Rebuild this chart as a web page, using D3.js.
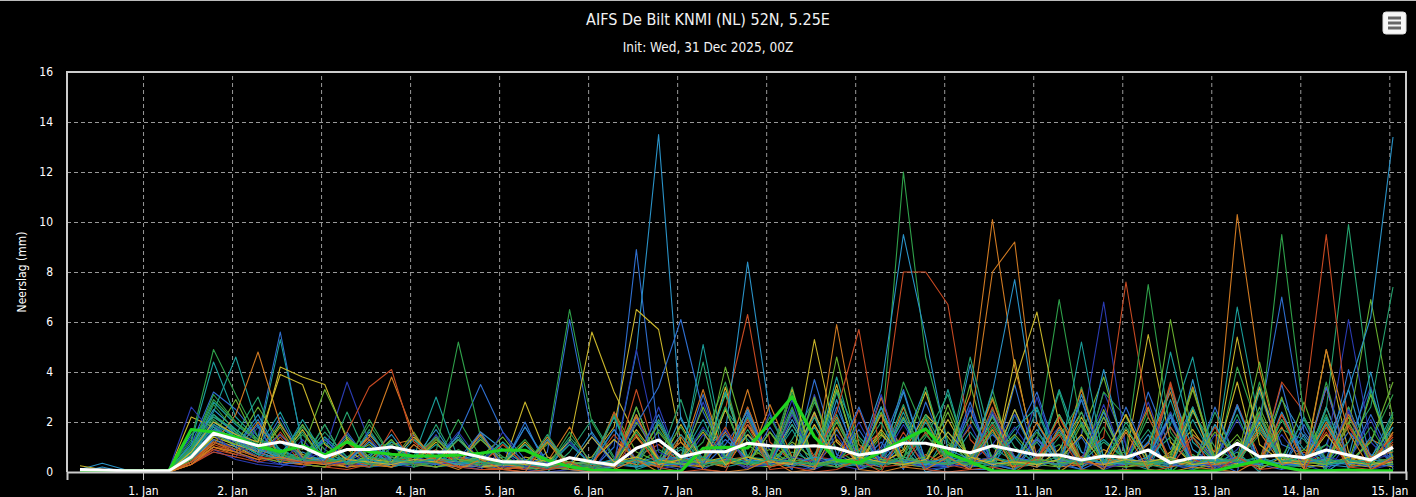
<!DOCTYPE html>
<html>
<head>
<meta charset="utf-8">
<script src="https://cdn.jsdelivr.net/npm/d3@7"></script>
<style>
  html, body { margin: 0; padding: 0; background: #000; overflow: hidden; }
  svg { display: block; }
</style>
</head>
<body>
<div id="chart"></div>
<script>
// Defines dimensions of SVG and of the plot area inside it
var width = 1416;
var height = 497;
var plot = {left: 67, top: 72, right: 1406, bottom: 472};
var font = "'DejaVu Sans Condensed', 'DejaVu Sans', sans-serif";

var chartTitle = "AIFS De Bilt KNMI (NL) 52N, 5.25E";
var chartSubtitle = "Init: Wed, 31 Dec 2025, 00Z";
var yTitle = "Neerslag (mm)";

// Forecast steps: every 6 hours from 31 Dec 06Z to 15 Jan 00Z (60 steps)
var firstStep = Date.UTC(2025, 11, 31, 6);
var stepMs = 6 * 3600 * 1000;

// Day ticks are at local midnight (23Z)
var tickLabels = ["1. Jan", "2. Jan", "3. Jan", "4. Jan", "5. Jan", "6. Jan", "7. Jan", "8. Jan",
  "9. Jan", "10. Jan", "11. Jan", "12. Jan", "13. Jan", "14. Jan", "15. Jan"];
var yTicks = [0, 2, 4, 6, 8, 10, 12, 14, 16];

// Colours the ensemble members cycle through
var memberColors = ["#2b3cb4", "#2f6fd0", "#2a93c8", "#1a9e9a", "#2fa14a",
  "#69b130", "#c9b52a", "#d07a22", "#c84a22", "#25a36f"];

// Ensemble mean (white) and control run (green), mm per 6 h
var meanValues = [0.1,0.08,0.05, 0.05,0.05,0.6,1.55, 1.3,1.05,1.2,1.0, 0.6,0.9,0.9,1.0, 0.82,0.8,0.8,0.6,
  0.41,0.4,0.28,0.57, 0.41,0.28,0.95,1.28, 0.61,0.81,0.81,1.15, 1.05,1.0,1.05,0.95, 0.68,0.81,1.15,1.15,
  0.95,0.77,1.05,0.87, 0.68,0.68,0.48,0.64, 0.59,0.88,0.37,0.57, 0.57,1.15,0.61,0.68, 0.57,0.88,0.68,0.48, 0.99];
var controlValues = [0.05,0.05,0.05, 0.05,0.05,1.7,1.6, 1.4,1.04,0.81,1.05, 0.68,1.21,0.81,0.71, 0.64,0.64,0.68,0.75,
  0.88,0.87,0.48,0.21, 0.08,0.07,0.03,0.03, 0.03,0.95,0.99,0.96, 1.96,3.01,1.41,0.48, 0.37,0.81,1.28,1.72,
  0.75,0.41,0.05,0.03, 0.03,0.03,0.03,0.03, 0.03,0.03,0.03,0.03, 0.05,0.25,0.45,0.2, 0.05,0.05,0.08,0.05, 0.05];

// Ensemble members, one row each: 31 Dec (3 steps), 1..14 Jan (4 steps), 15 Jan 00Z
var members = [
  [0,0,0.05, 0,0.1,0.8,1.2, 0.9,0.6,0.3,0.2, 0.5,0.3,0.2,0.4, 0.3,0.2,0.6,0.4, 0.2,1.8,0.3,0.1, 0,0.4,2.2,0.3, 0.1,2.8,0.4,1.5, 0.6,0.2,3.1,0.3, 0.1,0.6,2.1,0.5, 0.2,2.6,0.4,0.1, 0.8,1.8,0.1,3.2, 1.1,0.1,0,2.6, 0.2,0.9,2.4,0.1, 0.3,0,1.2,3.4, 0.2],
  [0,0,0, 0,0.05,1.1,3.2, 2.5,1.4,5.6,1.0, 0.6,0.4,0.9,0.3, 0.5,0.8,0.2,0.3, 0.1,0.3,0.6,0.2, 0.1,1.0,8.9,1.4, 0.3,3.1,0.2,1.9, 0.9,0.1,3.7,0.7, 0.3,1.2,0.1,2.8, 0.6,0.1,0.1,3.5, 0.2,0.5,1.4,0, 0.1,3.2,0.9,2.6, 0.4,0,3.3,1.1, 0.7,0.2,4.1,0.5, 0.4],
  [0.1,0.35,0.1, 0.05,0.1,1.5,2.2, 1.6,0.8,1.2,0.6, 0.4,0.2,0.7,1.2, 0.8,0.4,0.3,1.6, 0.9,0.3,0.2,0.1, 0,0.3,4.8,13.5, 2.1,0.5,3.2,0.4, 0.3,1.1,0.1,2.9, 0.1,0.4,1.3,0, 0.2,4.3,0.3,0.1, 1.2,0.1,3.1,0.6, 0.3,1.5,0,3.7, 0.1,0.6,0.3,2.9, 1.4,0,0.6,4.0, 0.1],
  [0,0.05,0, 0,0.1,0.9,2.8, 1.9,1.2,5.3,1.1, 0.7,0.5,0.3,0.6, 0.4,1.1,0.5,0.3, 0.6,0.2,0.1,1.3, 0.2,0.1,2.6,0.3, 0.9,0.2,2.5,1.3, 0.4,1.7,0.1,3.2, 0.6,2.3,0.9,0.1, 1.6,0.4,0,2.3, 0.5,3.3,0.8,0.2, 0.4,0.1,1.9,4.6, 0.3,0.8,0,2.1, 0.9,2.1,0.1,3.3, 0.6],
  [0,0,0, 0,0.05,0.6,2.1, 1.4,0.9,0.6,1.8, 0.9,0.3,0.2,0.5, 0.6,0.3,0.9,0.4, 0.2,0.4,1.1,6.5, 2.0,0.5,0.3,0.9, 0.4,1.2,3.6,0.3, 0.2,0.5,2.8,0.9, 0.3,0.1,3.6,1.5, 0.4,0.2,3.3,0.1, 0.6,1.1,0.1,3.2, 2.2,0.5,0,0.7, 0.1,4.2,1.6,0.3, 0.2,3.6,0.3,1.2, 3.1],
  [0,0,0.05, 0,0,0.5,1.4, 2.9,1.1,0.7,0.4, 0.3,0.6,1.1,0.4, 0.2,0.5,0.3,0.2, 0.4,0.1,0.2,0.6, 0.3,2.4,0.8,0.4, 0.2,0.5,3.1,0.6, 0.9,0.3,0.2,4.6, 0.8,2.6,0.4,0.3, 1.1,0.6,3.0,0.4, 0.3,0.2,1.5,3.8, 0.6,0.2,2.4,0.1, 0.3,1.3,0.5,3.0, 0.1,0.4,2.2,0.6, 1.1],
  [0.25,0.1,0, 0,0.05,2.2,1.8, 1.3,0.8,1.5,0.6, 0.4,0.9,0.3,0.2, 0.5,0.3,0.6,0.4, 0.3,0.2,0.5,0.4, 0.6,1.8,6.5,5.7, 1.2,0.3,3.4,0.2, 0.6,1.9,0.5,3.5, 0.2,0.4,0.8,2.3, 1.4,0.3,0.1,4.5, 0.2,0.9,2.4,0.3, 0.5,0.2,0.8,1.7, 0.4,3.6,0.1,0.6, 0.3,4.9,0.8,0.2, 0.4],
  [0,0,0, 0,0.1,0.4,1.2, 0.8,1.3,0.6,0.5, 0.3,0.2,0.4,1.1, 1.3,0.5,0.3,0.2, 0.1,0.3,0.2,0.1, 0.1,0.4,1.4,0.3, 0.6,3.3,0.4,0.2, 0.3,2.5,0.2,1.3, 0.4,0.2,2.6,0.3, 0.8,3.1,10.1,4.2, 0.6,0.2,0.3,0.9, 0.4,1.1,3.2,0.2, 0.6,0.3,1.8,0.4, 0.2,2.6,0.3,1.3, 0.9],
  [0,0,0, 0,0,0.3,0.9, 1.1,0.6,0.4,0.3, 0.2,0.1,0.3,0.6, 0.4,0.9,0.3,0.2, 0.3,0.1,0.4,0.2, 0.1,0.2,0.6,1.1, 0.4,0.8,2.5,6.3, 1.2,0.4,2.3,0.2, 0.5,3.0,0.2,0.7, 0.3,0.1,2.4,0.2, 1.3,0.5,0.2,0.6, 0.2,0.4,3.6,0.5, 0.3,2.7,0.6,0.3, 0.8,0.3,1.9,0.4, 1.5],
  [0,0,0, 0,0.05,0.7,1.9, 1.2,0.7,0.9,0.5, 0.6,0.3,0.2,0.3, 0.3,0.6,0.4,0.5, 0.4,0.2,0.3,0.2, 0.1,2.3,0.2,0.5, 1.0,0.3,2.6,0.4, 0.2,0.8,0.4,3.3, 1.4,0.5,0.2,2.3, 0.6,0.2,2.5,1.0, 0.3,3.2,0.4,1.2, 0.5,0.3,0.1,2.4, 1.0,0.4,3.2,0.6, 0.3,2.5,9.9,3.1, 0.8],
  [0,0,0, 0,0.1,1.4,0.9, 0.5,0.3,0.2,0.6, 0.3,0.4,0.2,0.3, 0.2,0.6,0.3,0.1, 0.1,0.2,0.1,0.4, 0.2,0.5,2.3,0.1, 0.3,0.1,0.6,2.2, 0.4,2.9,0.1,0.5, 0.3,0.9,2.2,0.1, 0.2,0.4,1.1,2.3, 0.6,0.2,1.5,6.8, 1.0,0.3,2.2,0.4, 0.1,0.5,0.2,2.3, 0.6,0.2,2.4,0.1, 0.3],
  [0,0,0, 0,0,0.5,1.6, 1.0,2.1,0.6,0.4, 0.5,0.3,0.6,0.2, 0.4,0.2,0.5,0.7, 0.3,0.1,0.8,6.1, 1.5,0.4,0.2,0.3, 0.6,0.2,1.1,2.4, 0.3,2.5,0.2,0.6, 0.2,1.0,3.3,0.4, 0.5,0.2,0.3,1.4, 3.2,0.4,0.1,0.5, 0.3,0.6,2.2,0.1, 2.6,0.4,0.3,3.5, 0.2,0.3,1.6,0.7, 0.2],
  [0,0.2,0, 0,0.1,1.0,2.5, 1.7,1.0,0.5,0.8, 0.4,0.6,1.0,0.3, 0.9,0.4,0.6,0.5, 0.3,0.4,0.2,0.1, 0.1,0.2,0.4,0.6, 0.3,0.9,1.6,8.4, 2.3,0.5,2.4,0.2, 0.6,0.3,1.1,3.4, 0.2,0.7,0.3,2.5, 0.4,2.3,0.8,0.3, 0.6,0.2,3.4,0.9, 0.3,0.5,0.2,2.4, 0.6,1.1,3.3,0.2, 0.5],
  [0,0,0, 0,0.05,1.2,4.4, 2.2,1.3,0.9,0.4, 0.6,0.3,0.5,0.2, 0.4,0.2,0.3,0.6, 0.2,0.5,0.3,0.2, 0.3,2.2,0.1,0.4, 0.5,0.3,3.2,0.6, 0.4,0.2,0.7,2.3, 0.2,2.6,0.4,0.3, 3.3,0.2,0.6,0.4, 0.5,2.3,0.2,0.7, 0.3,1.2,3.4,0.2, 0.5,6.6,1.9,0.4, 0.2,2.6,0.3,0.5, 2.4],
  [0,0,0, 0,0.1,0.9,3.1, 2.0,1.2,0.4,0.6, 0.3,0.5,0.2,0.4, 0.5,0.3,0.4,0.2, 0.1,0.3,0.2,0.4, 0.2,0.1,2.3,0.2, 0.4,0.6,0.2,2.3, 0.6,3.4,0.2,0.5, 0.3,1.4,12.0,4.6, 1.2,0.4,2.2,0.3, 0.6,0.2,3.4,0.3, 0.2,2.5,0.3,0.1, 0.4,0.2,3.6,0.3, 0.5,2.3,0.2,0.6, 0.4],
  [0,0,0, 0,0,0.6,1.7, 1.4,0.8,0.5,0.3, 0.2,0.4,0.6,0.3, 0.5,1.4,0.6,0.3, 0.4,0.2,0.1,0.3, 0.2,0.4,2.6,0.3, 0.2,0.4,0.3,2.6, 0.4,1.2,0.5,3.3, 0.6,0.3,2.2,0.4, 0.3,3.5,0.4,0.2, 0.4,1.6,0.3,2.5, 0.2,0.3,0.7,3.4, 0.6,0.2,2.4,0.3, 0.9,0.4,1.8,6.9, 2.1],
  [0,0.1,0, 0,0.05,0.4,1.3, 1.0,0.6,1.9,0.7, 0.4,0.2,0.3,0.5, 0.3,0.4,0.2,0.3, 0.2,0.6,0.4,1.2, 5.6,3.2,1.4,0.5, 0.3,0.2,2.5,0.4, 0.2,3.3,0.3,0.4, 0.5,0.3,0.9,3.2, 0.4,0.2,2.3,0.6, 0.3,0.5,2.2,0.4, 0.6,5.5,1.2,0.3, 0.2,0.4,2.3,0.5, 0.3,0.2,2.6,0.4, 0.2],
  [0,0,0, 0,0,0.3,1.0, 0.7,1.1,0.4,0.3, 0.5,0.2,0.3,0.2, 0.6,0.3,0.4,0.2, 0.3,0.1,0.2,0.1, 0.2,0.5,2.3,0.4, 0.6,0.2,0.4,3.3, 0.2,0.4,0.6,2.2, 0.3,3.0,0.5,0.4, 0.6,1.8,8.0,9.2, 2.0,0.4,3.3,0.2, 0.5,0.3,0.2,3.4, 0.3,0.6,0.2,2.3, 0.4,3.4,0.5,0.3, 0.6],
  [0,0,0, 0,0.05,0.5,1.1, 0.8,0.4,0.6,0.3, 0.2,0.4,0.3,0.5, 0.3,0.2,0.4,0.2, 0.1,0.2,0.3,0.2, 0.3,0.2,3.3,0.4, 0.2,0.5,0.3,2.6, 0.4,2.3,0.6,0.5, 0.9,1.6,8.0,8.0, 6.7,1.3,0.4,0.3, 0.5,2.2,0.4,0.6, 0.3,0.2,3.5,0.3, 0.4,0.2,2.3,0.6, 0.2,3.4,0.3,0.5, 1.2],
  [0,0,0, 0,0.1,0.8,2.0, 1.5,3.0,0.7,1.6, 0.3,2.4,0.4,1.1, 0.2,1.9,0.3,0.5, 1.2,0.2,0,0.8, 2.1,0.6,0.2,1.7, 0.5,4.4,0.3,2.2, 0.2,1.3,2.9,0.4, 0.6,2.0,0.2,1.4, 3.1,0.3,1.6,0.2, 0.3,1.4,2.9,0.3, 2.0,0.6,1.4,0.3, 0.5,2.3,0.2,1.7, 1.3,0.1,2.6,0.2, 1.8],
  [0,0,0, 0,0.05,0.4,0.8, 0.6,1.8,0.3,0.2, 1.4,0.2,0.9,0.6, 0.3,1.5,0.2,0.1, 0.9,0.1,0,0.1, 0,1.3,0.2,2.6, 0.2,1.5,0.6,0.1, 2.4,0.2,0.1,1.5, 0.2,3.1,0.3,0.2, 0.5,1.9,0.2,0, 3.0,0.3,0.6,0.1, 0.4,2.8,0.3,0.1, 1.5,0.2,3.4,0.3, 0.4,0.8,6.1,1.2, 0.3],
  [0,0,0, 0,0,0.6,1.5, 1.2,0.7,2.2,0.5, 0.3,1.6,0.4,0.3, 1.5,0.3,0.2,1.4, 0.2,2.0,0.1,0.2, 0.3,0.5,1.9,3.4, 6.1,2.4,0.6,0.3, 1.8,0.4,0.1,2.6, 0.5,0.2,1.4,0.3, 0.2,2.5,0.3,0.1, 1.4,0.3,0.1,2.2, 0.3,1.2,0.2,0.6, 0.2,2.7,0.3,0.1, 1.9,0.2,0.4,2.3, 0.5],
  [0,0.1,0, 0,0.1,0.7,1.8, 1.0,2.3,0.6,0.4, 1.9,0.3,0.6,1.5, 0.3,0.6,1.4,0.2, 0.4,1.1,0.2,0.3, 1.6,0.3,0.5,0.2, 2.2,0.3,0.6,1.5, 0.3,2.1,0.4,0.2, 0.6,3.3,9.5,5.4, 0.9,0.5,2.3,0.4, 0.2,1.7,0.3,4.1, 0.6,0.3,1.8,0.4, 0.3,2.6,0.4,0.2, 1.5,0.3,0.2,1.4, 0.3],
  [0,0,0, 0,0.05,0.9,2.4, 4.6,1.8,0.9,0.5, 1.4,0.6,0.3,1.2, 0.6,3.0,0.5,0.3, 1.2,0.4,0.1,0.2, 0.3,1.7,0.4,0.3, 0.5,2.1,0.2,0.4, 1.6,0.6,0.4,3.8, 0.7,0.3,2.4,0.2, 0.3,1.6,0.4,0.3, 2.5,0.2,0.6,1.3, 0.5,0.3,2.9,0.2, 0.6,0.3,1.7,0.5, 0.3,2.2,0.2,0.3, 1.3],
  [0,0,0, 0,0.1,1.3,4.9, 3.1,1.4,0.8,0.5, 1.9,0.3,0.5,1.3, 0.2,0.4,2.1,0.6, 0.3,0.2,1.4,0.2, 0.1,2.3,0.2,0.4, 0.3,0.5,2.6,0.2, 0.5,3.2,0.2,0.4, 1.3,0.2,0.5,3.4, 0.4,0.3,1.8,0.5, 1.2,6.9,1.8,0.4, 0.3,2.2,0.4,0.3, 1.9,0.5,0.3,2.1, 0.4,1.1,0.5,0.2, 2.3],
  [0,0,0, 0,0,0.5,1.4, 1.1,0.6,1.8,0.3, 0.2,1.2,0.3,0.4, 1.6,0.2,0.4,1.3, 0.5,0.3,0.2,0.1, 0.2,0.4,2.0,0.6, 0.4,2.6,0.5,0.3, 1.6,0.3,3.0,0.2, 0.4,1.6,0.3,0.2, 2.7,0.4,0.6,1.5, 0.5,0.2,1.9,0.3, 0.2,0.4,0.6,3.3, 0.5,1.5,0.2,0.4, 2.8,0.3,0.4,1.2, 3.6],
  [0,0,0, 0,0.05,0.7,1.6, 1.2,0.8,0.5,1.7, 0.3,0.4,1.5,0.5, 0.4,1.2,0.2,0.3, 0.2,2.8,0.6,0.3, 0.4,1.3,0.5,0.2, 1.9,0.4,0.2,1.5, 0.6,0.4,2.4,0.2, 0.4,1.5,0.6,0.4, 2.1,0.5,0.4,3.6, 6.4,1.9,0.4,0.3, 1.7,0.4,0.3,2.5, 0.3,0.2,2.0,0.3, 0.5,1.9,0.3,0.2, 1.6],
  [0,0,0, 0,0,0.4,1.0, 0.8,2.0,0.6,0.3, 0.5,1.3,0.4,0.2, 1.1,0.4,0.2,1.6, 0.1,0.2,1.4,0.3, 0.2,0.4,2.2,0.5, 0.4,0.2,1.6,0.3, 2.7,0.6,0.4,0.2, 0.5,2.3,0.2,0.4, 0.3,0.6,2.9,0.4, 0.2,1.8,0.3,0.6, 2.3,0.2,0.5,1.5, 0.8,10.3,4.1,0.6, 0.4,2.0,0.6,0.2, 1.6],
  [0,0,0, 0,0.05,0.3,0.8, 0.6,0.4,1.6,0.5, 0.3,1.2,0.4,0.3, 0.5,1.4,0.2,0.4, 0.2,0.1,1.3,0.2, 0.1,2.4,0.4,0.2, 1.5,0.5,0.2,2.1, 0.2,0.4,1.9,0.3, 2.5,0.2,0.3,1.6, 0.2,0.4,2.6,0.2, 0.5,0.3,0.6,1.4, 7.6,2.2,0.5,0.3, 1.8,0.2,0.3,2.3, 0.3,1.6,0.2,0.4, 1.1],
  [0,0,0, 0,0.1,0.6,1.7, 1.3,0.7,2.0,0.4, 0.6,0.3,1.7,0.4, 0.4,0.3,1.5,0.2, 0.3,1.1,0.1,0.3, 0.2,0.3,1.6,0.4, 2.9,0.2,0.4,0.6, 0.5,2.4,0.2,0.4, 0.3,0.5,2.7,0.2, 0.4,2.2,0.6,0.3, 0.3,0.5,2.4,0.4, 0.5,1.7,0.4,0.2, 2.4,0.4,0.6,0.3, 0.5,0.3,1.2,2.6, 7.4],
  [0,0,0, 0,0.1,0.9,1.9, 1.1,0.6,1.5,0.5, 0.8,3.6,1.2,0.4, 0.3,0.5,1.6,0.4, 0.2,0.3,0.1,1.2, 0.3,0.2,2.1,0.6, 0.4,1.8,0.5,0.2, 0.3,2.3,0.4,0.6, 0.2,0.4,1.9,0.5, 0.3,0.2,2.4,0.6, 0.4,0.3,0.5,2.7, 0.3,0.6,0.2,1.4, 0.5,2.1,0.4,0.2, 0.6,0.4,2.5,0.5, 0.7],
  [0,0,0, 0,0.05,0.5,1.3, 0.9,1.9,0.3,0.4, 1.3,0.5,0.2,1.0, 0.6,0.4,1.5,3.5, 1.6,0.5,0.3,0.2, 1.4,0.3,0.5,2.3, 0.2,0.4,1.3,0.5, 0.4,0.3,2.2,0.4, 1.7,0.3,0.4,0.2, 0.3,2.8,0.2,0.4, 1.3,0.4,0.6,0.3, 2.6,0.5,0.3,0.4, 0.4,0.2,2.2,0.3, 0.3,3.4,0.4,0.2, 0.3],
  [0,0,0, 0,0.1,1.1,2.3, 1.5,0.9,0.7,1.9, 0.4,0.3,1.6,0.4, 0.5,1.7,0.3,0.2, 0.3,0.2,1.3,0.3, 0.2,0.5,0.4,2.0, 0.4,0.3,0.6,2.5, 0.3,0.4,0.2,1.7, 0.4,0.6,3.2,0.4, 0.5,0.4,3.2,7.7, 1.9,0.5,0.3,2.4, 0.3,0.4,0.6,0.2, 1.9,0.3,0.5,0.3, 2.2,0.4,0.3,0.6, 1.8],
  [0,0,0, 0,0.05,0.8,1.9, 1.4,1.0,2.4,0.6, 0.5,1.4,0.4,0.3, 0.4,0.6,0.3,1.5, 0.3,0.4,0.2,0.3, 0.5,2.2,0.2,0.4, 0.3,5.1,0.6,0.4, 0.5,0.3,1.8,0.2, 0.3,0.5,2.1,0.3, 0.4,0.3,0.5,1.7, 2.6,0.4,5.2,0.5, 0.3,0.4,0.2,2.1, 0.4,0.3,0.6,0.2, 0.3,1.9,0.4,0.3, 0.4],
  [0,0,0, 0,0.1,0.7,2.7, 1.6,0.9,0.6,1.5, 0.5,0.4,2.1,0.6, 0.5,0.8,5.2,1.4, 0.6,0.3,0.2,1.6, 0.3,0.4,0.2,0.5, 1.8,0.3,0.5,0.3, 0.6,2.6,0.3,0.2, 0.4,0.3,0.6,2.2, 0.3,0.5,0.2,0.4, 1.6,0.3,0.4,0.6, 0.8,7.5,1.6,0.4, 0.3,0.5,2.4,0.4, 0.6,0.3,0.5,1.8, 0.3],
  [0,0,0, 0,0,0.4,1.2, 0.9,0.6,0.4,1.9, 0.6,0.3,0.5,1.3, 0.3,0.2,0.4,0.6, 1.4,0.3,0.2,0.4, 0.3,0.4,0.6,1.6, 0.5,0.3,4.2,1.1, 0.4,0.6,0.3,2.0, 0.3,0.5,0.4,0.6, 2.4,0.3,0.5,0.4, 0.3,2.3,0.4,0.2, 0.5,0.3,6.1,1.4, 0.4,0.3,2.6,0.6, 0.3,0.5,0.4,3.1, 0.5],
  [0,0,0, 0,0.05,0.6,1.4, 1.1,0.8,4.2,3.8, 3.5,1.3,0.5,0.4, 1.4,0.5,0.4,0.2, 0.3,1.2,0.2,0.3, 0.4,0.2,1.7,0.5, 0.3,0.4,0.6,1.9, 0.5,0.3,5.3,1.2, 0.4,1.7,0.5,0.4, 0.3,0.6,0.4,2.5, 0.5,0.3,0.4,0.6, 2.3,0.5,0.4,0.3, 0.6,0.3,3.4,0.5, 0.4,0.3,0.6,0.4, 2.0],
  [0,0,0, 0,0,0.4,1.1, 2.3,4.8,1.9,0.6, 0.4,0.3,1.3,0.3, 0.4,0.6,0.3,1.5, 0.3,0.2,0.4,1.8, 0.2,0.5,0.3,0.4, 1.2,0.3,0.5,0.6, 0.3,0.4,0.2,5.9, 1.1,0.4,0.3,2.1, 0.4,0.3,0.6,0.2, 2.0,0.5,0.4,0.3, 0.6,2.6,0.2,0.4, 0.3,0.5,1.6,0.3, 0.5,0.4,2.3,0.6, 0.8],
  [0,0,0, 0,0.05,0.3,0.9, 0.7,0.5,1.4,0.3, 0.4,0.3,0.2,1.7, 0.3,0.4,0.6,0.3, 1.1,0.3,0.1,0.2, 0.3,1.5,0.4,0.3, 0.5,0.4,1.8,0.2, 0.4,0.3,0.5,2.4, 5.7,0.6,0.3,0.4, 0.3,0.5,1.9,0.4, 0.4,2.2,0.5,0.2, 0.3,0.4,1.8,0.5, 0.2,0.4,0.3,3.6, 2.4,9.5,1.8,0.5, 1.4],
  [0,0,0, 0,0.1,0.8,2.2, 1.7,1.1,0.6,0.5, 1.6,0.6,0.3,0.5, 0.6,1.4,0.3,0.5, 0.4,0.2,1.5,0.2, 0.3,0.4,0.2,2.1, 0.4,0.6,0.3,1.7, 0.3,0.5,2.2,0.3, 0.5,0.3,0.6,0.4, 0.5,4.6,1.0,0.4, 0.3,0.5,2.0,0.3, 0.4,0.2,0.5,2.6, 0.5,0.4,0.3,0.6, 2.1,0.3,0.5,0.3, 0.4],
  [0,0,0, 0,0.1,2.6,1.5, 0.8,0.4,0.3,1.3, 0.3,0.4,1.4,0.3, 0.5,0.3,0.4,0.2, 1.6,0.2,0.4,0.3, 0.2,0.4,4.9,0.8, 0.4,0.3,1.7,0.2, 0.3,0.6,0.4,0.3, 2.0,0.3,0.5,0.2, 0.3,0.4,0.6,1.8, 0.5,0.3,0.4,0.2, 0.3,0.5,2.4,0.4, 0.2,0.4,0.3,1.5, 0.3,0.6,0.4,2.1, 0.2],
  [0,0,0, 0,0.05,0.6,1.7, 1.3,0.8,0.5,0.4, 0.5,1.5,0.4,0.3, 0.4,0.3,0.5,1.6, 0.3,0.4,0.2,0.3, 0.4,1.7,0.5,0.3, 0.3,0.5,0.4,2.3, 0.5,0.4,0.3,0.6, 2.6,0.3,0.5,0.3, 0.3,0.5,1.5,0.6, 0.4,0.3,2.9,0.3, 0.5,0.4,0.3,0.2, 0.4,0.6,2.1,7.0, 1.6,0.5,0.4,0.3, 0.5],
  [0,0,0, 0,0.1,0.9,2.0, 1.4,0.9,0.6,0.4, 0.6,0.4,1.2,0.5, 0.4,0.5,0.3,0.4, 0.3,1.8,0.4,0.3, 0.4,0.3,0.2,0.5, 0.6,0.4,1.5,0.5, 0.4,0.3,0.6,0.4, 0.3,2.6,0.4,0.3, 0.6,0.4,0.3,0.5, 1.7,0.3,0.5,0.4, 0.3,0.6,2.3,0.3, 0.5,0.4,0.3,0.6, 0.4,0.5,3.3,6.2, 13.4],
  [0,0,0, 0,0.05,0.7,1.8, 1.2,0.7,0.5,2.1, 0.6,0.4,0.5,0.3, 1.3,0.6,0.4,0.3, 0.4,0.3,0.2,1.1, 0.3,0.5,0.4,0.3, 1.5,0.3,0.6,0.4, 0.3,1.9,0.4,0.3, 0.5,0.4,0.3,2.0, 0.4,0.3,0.5,1.4, 0.3,0.5,0.4,0.6, 0.4,0.3,4.8,1.2, 0.4,0.5,1.9,0.4, 0.6,0.3,0.4,0.5, 0.3],
  [0,0,0, 0,0.1,1.0,2.9, 2.0,1.3,0.7,0.5, 0.4,0.5,1.9,0.6, 0.3,0.4,0.5,0.3, 0.4,1.3,0.2,0.3, 0.2,0.4,1.6,0.4, 0.5,0.3,0.4,0.6, 2.2,0.5,0.3,0.4, 0.3,0.4,0.6,1.5, 0.5,0.3,0.4,0.3, 0.4,0.6,0.3,1.8, 0.3,0.4,0.5,0.3, 0.6,0.4,1.5,9.5, 2.2,0.5,0.4,0.3, 0.6],
  [0,0,0, 0,0,0.5,1.5, 1.1,2.6,1.2,0.9, 3.3,1.4,0.6,0.4, 0.4,1.3,0.5,0.4, 0.3,0.4,1.2,0.3, 0.4,0.3,0.5,1.9, 0.3,0.5,0.4,0.3, 1.6,0.4,0.3,0.5, 0.4,2.4,0.3,0.4, 0.3,0.5,1.7,0.3, 0.5,0.4,0.3,2.2, 0.4,0.3,0.5,0.4, 1.6,0.5,4.4,0.6, 0.4,0.3,2.0,0.4, 0.3],
  [0,0,0, 0,0.05,0.8,2.0, 1.5,1.2,3.9,3.5, 1.1,0.5,0.4,0.3, 0.5,0.4,1.3,0.5, 0.4,0.3,0.5,0.2, 1.4,0.4,0.6,0.3, 0.5,1.6,0.3,0.6, 0.4,0.3,1.9,0.4, 0.6,0.4,0.3,0.5, 1.6,0.6,0.3,0.4, 0.3,0.5,1.5,0.3, 0.5,0.4,0.6,0.3, 0.4,5.4,1.1,0.4, 0.3,1.5,0.4,0.3, 0.4],
  [0,0,0, 0,0,0.3,1.0, 0.8,0.5,0.6,0.4, 0.3,0.5,1.4,3.8, 1.5,0.4,0.1,0.5, 0.1,0,1.2,0.1, 0,0.1,0.5,0, 1.4,0.1,0,0.1, 0.5,0,0.1,1.8, 0.1,0,0.2,0.1, 0.6,0.1,1.7,0, 0.1,0,0.6,0.1, 1.6,0.1,0,0.2, 0.1,0,0.5,1.8, 0.1,4.9,1.6,0.1, 0.6],
  [0,0,0, 0,0.05,0.4,1.2, 0.9,0.6,0.5,0.4, 0.4,1.6,3.4,4.1, 1.2,0.5,0.2,0.1, 0.1,0,0.1,0.4, 0,0.1,1.5,0.2, 0,0.1,0,1.9, 0.1,0.2,0,0.1, 0.5,0,1.6,0.1, 0,0.1,0.2,0, 0.6,1.5,0.1,0, 0.1,0,0.2,1.4, 0,0.6,0.1,0.2, 0,1.8,0.2,0.1, 0.5],
  [0,0,0, 0,0.1,0.9,2.3, 1.6,1.0,0.7,0.5, 1.2,0.3,0.6,0.5, 0.4,0.5,1.3,0.4, 0.3,0.4,0.2,1.4, 0.4,0.3,0.5,0.4, 0.3,1.7,0.6,0.3, 0.5,0.4,0.3,2.1, 0.4,0.3,0.5,0.4, 0.3,0.6,2.0,0.5, 0.4,0.3,0.5,0.4, 1.8,0.4,0.3,0.6, 0.4,0.5,2.2,0.4, 0.6,0.4,0.5,0.3, 2.1]
];

// Appends SVG Canvas to document body
var svg = d3.select("#chart").append("svg")
    .attr("width", width)
    .attr("height", height)
    .style("background", "#000");

// Scales: time axis padded 3.5 h on both ends, as the chart does
var x = d3.scaleUtc()
    .domain([new Date(firstStep - 3.5 * 3600 * 1000), new Date(firstStep + 59 * stepMs + 3.5 * 3600 * 1000)])
    .range([plot.left, plot.right]);
var y = d3.scaleLinear()
    .domain([0, 16])
    .range([plot.bottom, plot.top]);

var tickTimes = tickLabels.map(function(d, i){ return new Date(Date.UTC(2025, 11, 31, 23) + i * 864e5); });

// thin border along the top of the container
svg.append("line")
    .attr("x1", 0).attr("x2", width)
    .attr("y1", 0.5).attr("y2", 0.5)
    .attr("stroke", "#bbb");

// Grid lines (dashed)
svg.append("g")
    .attr("class", "xgrid")
    .attr("transform", "translate(0," + plot.bottom + ")")
    .call(d3.axisBottom(x).tickValues(tickTimes).tickSize(-(plot.bottom - plot.top)).tickFormat(""))
    .call(function(g){
      g.select(".domain").remove();
      g.selectAll("line").attr("stroke", "#999").attr("stroke-dasharray", "4,3");
    });

svg.append("g")
    .attr("class", "ygrid")
    .attr("transform", "translate(" + plot.left + ",0)")
    .call(d3.axisLeft(y).tickValues(yTicks.slice(1, -1)).tickSize(-(plot.right - plot.left)).tickFormat(""))
    .call(function(g){
      g.select(".domain").remove();
      g.selectAll("line").attr("stroke", "#999").attr("stroke-dasharray", "4,3");
    });

// Line generator shared by all series
var line = d3.line()
    .x(function(d, i){ return x(new Date(firstStep + i * stepMs)); })
    .y(function(d){ return y(d); });

svg.append("g")
    .attr("class", "members")
    .selectAll("path")
    .data(members)
    .enter().append("path")
      .attr("d", line)
      .attr("fill", "none")
      .attr("stroke", function(d, i){ return memberColors[i % memberColors.length]; })
      .attr("stroke-width", 1.1)
      .attr("stroke-linejoin", "round");

svg.append("path")
    .attr("class", "control")
    .attr("d", line(controlValues))
    .attr("fill", "none")
    .attr("stroke", "#1fd41f")
    .attr("stroke-width", 3.2)
    .attr("stroke-linejoin", "round");

svg.append("path")
    .attr("class", "mean")
    .attr("d", line(meanValues))
    .attr("fill", "none")
    .attr("stroke", "#ffffff")
    .attr("stroke-width", 3.2)
    .attr("stroke-linejoin", "round");

// Plot border (left, top, right) and x axis line
svg.append("path")
    .attr("d", "M" + plot.left + "," + plot.bottom + "V" + plot.top + "H" + plot.right + "V" + plot.bottom)
    .attr("fill", "none")
    .attr("stroke", "#cccccc")
    .attr("stroke-width", 2);

// X axis with labels
svg.append("g")
    .attr("class", "xaxis")
    .attr("transform", "translate(0," + plot.bottom + ")")
    .call(d3.axisBottom(x).tickValues(tickTimes).tickSize(8).tickPadding(6)
      .tickFormat(function(d, i){ return tickLabels[i]; }))
    .call(function(g){
      g.select(".domain").attr("stroke", "#cccccc").attr("stroke-width", 2);
      g.selectAll("line").attr("stroke", "#cccccc");
      g.selectAll("text").attr("fill", "#ffffff").style("font-family", font).style("font-size", "12px");
    });

// Y axis labels
svg.append("g")
    .attr("class", "yaxis")
    .attr("transform", "translate(" + plot.left + ",0)")
    .call(d3.axisLeft(y).tickValues(yTicks).tickSize(0).tickPadding(14))
    .call(function(g){
      g.select(".domain").remove();
      g.selectAll("text").attr("fill", "#ffffff").style("font-family", font).style("font-size", "12px");
    });

svg.append("text")
    .attr("transform", "translate(26," + ((plot.top + plot.bottom) / 2) + ") rotate(-90)")
    .attr("text-anchor", "middle")
    .attr("fill", "#ffffff")
    .style("font-family", font)
    .style("font-size", "12px")
    .text(yTitle);

// Title and subtitle
svg.append("text")
    .attr("x", width / 2)
    .attr("y", 25)
    .attr("text-anchor", "middle")
    .attr("fill", "#f2f2f2")
    .style("font-family", font)
    .style("font-size", "16px")
    .text(chartTitle);

svg.append("text")
    .attr("x", width / 2)
    .attr("y", 52)
    .attr("text-anchor", "middle")
    .attr("fill", "#f2f2f2")
    .style("font-family", font)
    .style("font-size", "13.5px")
    .text(chartSubtitle);

// Export menu button (hamburger)
var menu = svg.append("g").attr("transform", "translate(1383,12)");
menu.append("rect")
    .attr("width", 23).attr("height", 22)
    .attr("rx", 3)
    .attr("fill", "#f7f7f7")
    .attr("stroke", "#ddd");
menu.selectAll("line")
    .data([6, 11, 16])
    .enter().append("line")
      .attr("x1", 5).attr("x2", 18)
      .attr("y1", function(d){ return d; })
      .attr("y2", function(d){ return d; })
      .attr("stroke", "#666")
      .attr("stroke-width", 3);
</script>
</body>
</html>
